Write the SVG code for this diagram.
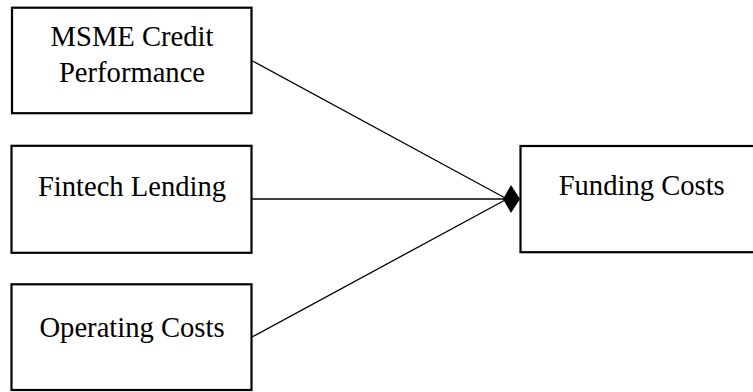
<svg xmlns="http://www.w3.org/2000/svg" width="753" height="392" viewBox="0 0 753 392">
<style>
.box{fill:#fff;stroke:#000;stroke-width:2.2}
.lbl{font-family:"Liberation Serif","Times New Roman",serif;font-size:28.6px;fill:#000;text-anchor:middle}
.edge{stroke:#000;stroke-width:1.3;fill:none}
</style>
<rect width="753" height="392" fill="#fff"/>
<g id="connectors">
<line class="edge" x1="252" y1="60.7" x2="507" y2="199"/>
<line class="edge" x1="252" y1="199" x2="507" y2="199"/>
<line class="edge" x1="252" y1="337" x2="507" y2="199"/>
<polygon points="503,199 511,185 520,199 511,213" fill="#000"/>
</g>
<g id="msme">
<rect class="box" x="12" y="7.7" width="239.5" height="105.5"/>
<text class="lbl" x="132" y="46">MSME Credit</text>
<text class="lbl" x="132" y="81.7">Performance</text>
</g>
<g id="fintech">
<rect class="box" x="11.5" y="145.8" width="240" height="107"/>
<text class="lbl" x="132" y="196">Fintech Lending</text>
</g>
<g id="operating">
<rect class="box" x="11.5" y="284.3" width="240" height="105.7"/>
<text class="lbl" x="132" y="336.7">Operating Costs</text>
</g>
<g id="funding">
<rect class="box" x="520.5" y="146" width="240" height="106.2"/>
<text class="lbl" x="641.7" y="195">Funding Costs</text>
</g>
</svg>
